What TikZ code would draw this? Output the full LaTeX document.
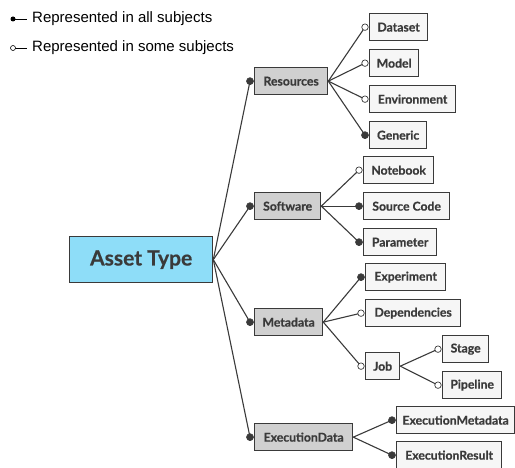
\documentclass[tikz,border=0pt]{standalone}
\usepackage{fontspec}
\setmainfont{Lato}[BoldFeatures={FakeBold=0.6}]
\newfontfamily\legendfont{Liberation Sans}
\definecolor{edge}{HTML}{3A3A3A}
\definecolor{rootfill}{HTML}{8EDDF8}
\definecolor{midfill}{HTML}{D0D0D0}
\definecolor{leaffill}{HTML}{F6F6F6}
\tikzset{
  box/.style={draw=edge, line width=1.3pt, anchor=north west, minimum height=27pt, inner sep=0pt,
    font=\fontsize{12.2}{14}\selectfont\bfseries, text=edge},
  midbox/.style={box, fill=midfill},
  leafbox/.style={box, fill=leaffill},
  rootbox/.style={draw=edge, line width=1.3pt, anchor=north west, fill=rootfill, inner sep=0pt,
    minimum width=143pt, minimum height=46pt, font=\fontsize{21}{25}\selectfont\bfseries, text=edge},
  link/.style={draw=edge, line width=1.1pt},
  fdot/.style={circle, fill=edge, draw=edge, line width=0.6pt, minimum size=7pt, inner sep=0pt},
  odot/.style={circle, fill=white, draw=edge, line width=0.7pt, minimum size=6.5pt, inner sep=0pt},
  legtext/.style={anchor=west, inner sep=0pt, font=\legendfont\fontsize{15}{18}\selectfont, text=black}
}
\newcommand\fulllink[2]{\draw[link] (#1.east) -- ([xshift=-4pt]#2.west) node[fdot]{};}
\newcommand\openlink[2]{\draw[link] (#1.east) -- ([xshift=-4pt]#2.west) node[odot]{};}
\begin{document}
\begin{tikzpicture}[x=1pt,y=-1pt]
\useasboundingbox (0,0) rectangle (515,468);
% legend
\coordinate (l1a) at (13,19);
\coordinate (l1b) at (27,19);
\coordinate (l2a) at (13,48);
\coordinate (l2b) at (27,48);
\draw[black, line width=0.9pt] (l1a) -- (l1b);
\node[circle, fill=black, minimum size=5pt, inner sep=0pt] at (l1a) {};
\draw[black, line width=0.9pt] (l2a) -- (l2b);
\node[circle, fill=white, draw=black, line width=0.6pt, minimum size=5pt, inner sep=0pt] at (l2a) {};
\node[legtext] (leg1) at (32,19) {Represented in all subjects};
\node[legtext] (leg2) at (32,48) {Represented in some subjects};
% root
\node[rootbox] (root) at (69,236) {Asset Type};
% level 1
\node[midbox, minimum width=73pt] (res) at (254,67) {Resources};
\node[midbox, minimum width=66pt] (sw) at (254,192) {Software};
\node[midbox, minimum width=68pt] (meta) at (254,308) {Metadata};
\node[midbox, minimum width=98pt] (exd) at (254,423) {ExecutionData};
% leaves
\node[leafbox, minimum width=58pt] (ds) at (369,13) {Dataset};
\node[leafbox, minimum width=49pt] (mod) at (369,49) {Model};
\node[leafbox, minimum width=86pt] (env) at (369,85) {Environment};
\node[leafbox, minimum width=57pt] (gen) at (369,121) {Generic};
\node[leafbox, minimum width=70pt] (nb) at (363,156) {Notebook};
\node[leafbox, minimum width=86pt] (src) at (363,192) {Source Code};
\node[leafbox, minimum width=73pt] (par) at (363,228) {Parameter};
\node[leafbox, minimum width=80pt] (exp) at (365,263) {Experiment};
\node[leafbox, minimum width=95pt] (dep) at (365,299) {Dependencies};
\node[leafbox, minimum width=34pt] (job) at (365,352) {Job};
\node[leafbox, minimum width=46pt] (stg) at (442,335) {Stage};
\node[leafbox, minimum width=59pt] (pip) at (442,371) {Pipeline};
\node[leafbox, minimum width=118pt] (exm) at (396,406) {ExecutionMetadata};
\node[leafbox, minimum width=105pt] (exr) at (396,441) {ExecutionResult};
% connectors
\fulllink{root}{res}
\fulllink{root}{sw}
\fulllink{root}{meta}
\fulllink{root}{exd}
\openlink{res}{ds}
\openlink{res}{mod}
\openlink{res}{env}
\fulllink{res}{gen}
\openlink{sw}{nb}
\fulllink{sw}{src}
\fulllink{sw}{par}
\fulllink{meta}{exp}
\openlink{meta}{dep}
\openlink{meta}{job}
\openlink{job}{stg}
\openlink{job}{pip}
\fulllink{exd}{exm}
\fulllink{exd}{exr}
\end{tikzpicture}
\end{document}
